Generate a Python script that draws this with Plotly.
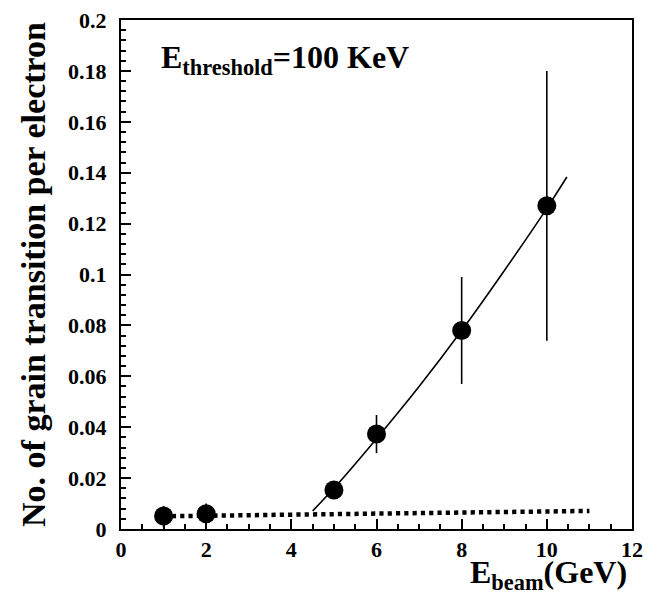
import plotly.graph_objects as go

# Data points
e_beam = [1, 2, 5, 6, 8, 10]
grains = [0.0051, 0.006, 0.0153, 0.0373, 0.078, 0.127]
err_up = [0.004, 0.004, 0.003, 0.0075, 0.021, 0.053]
err_dn = [0.0045, 0.0045, 0.003, 0.0075, 0.021, 0.053]

# Fit curve (solid)
fit_x = [4.5, 5, 6, 7, 8, 9, 10, 10.47]
fit_y = [0.0071, 0.016, 0.0355, 0.056, 0.078, 0.1015, 0.126, 0.1383]

# Background level (dotted)
bg_x = [1, 11]
bg_y = [0.005, 0.0071]

# Tick labels
x_ticks = [0, 2, 4, 6, 8, 10, 12]
x_labels = ["0", "2", "4", "6", "8", "10", "12"]
y_ticks = [0, 0.02, 0.04, 0.06, 0.08, 0.1, 0.12, 0.14, 0.16, 0.18, 0.2]
y_labels = ["0", "0.02", "0.04", "0.06", "0.08", "0.1", "0.12", "0.14", "0.16", "0.18", "0.2"]

FONT = "Liberation Serif"

fig = go.Figure()
fig.add_trace(go.Scatter(x=bg_x, y=bg_y, mode="lines",
                         line=dict(color="black", width=4.5, dash="4.2px,4.1px"),
                         hoverinfo="skip", showlegend=False))
fig.add_trace(go.Scatter(x=fit_x, y=fit_y, mode="lines",
                         line=dict(color="black", width=1.6, shape="spline", smoothing=0.8),
                         showlegend=False))
fig.add_trace(go.Scatter(x=e_beam, y=grains, mode="markers",
                         marker=dict(color="black", size=19, symbol="circle"),
                         error_y=dict(type="data", symmetric=False, array=err_up,
                                      arrayminus=err_dn, color="black",
                                      thickness=1.6, width=0),
                         showlegend=False))

axis_common = dict(showline=True, linecolor="black", linewidth=2, mirror=True,
                   ticks="inside", tickcolor="black", tickwidth=1.5, ticklen=10,
                   showgrid=False, zeroline=False, automargin=False,
                   tickfont=dict(family=FONT, size=22, color="black", weight="bold"))

fig.update_xaxes(range=[0, 12], tickvals=x_ticks, ticktext=x_labels,
                 minor=dict(ticks="inside", dtick=0.5, ticklen=5, tickcolor="black", tickwidth=1.5),
                 **axis_common)
fig.update_yaxes(range=[0, 0.2], tickvals=y_ticks, ticktext=y_labels,
                 minor=dict(ticks="inside", dtick=0.004, ticklen=5, tickcolor="black", tickwidth=1.5),
                 ticklabelstandoff=8,
                 title=dict(text="No. of grain transition per electron",
                            font=dict(family=FONT, size=34, color="black", weight="bold"),
                            standoff=12),
                 **axis_common)

fig.add_annotation(text="E<sub>threshold</sub>=100 KeV", xref="paper", yref="paper",
                   x=0.074, y=0.967, xanchor="left", yanchor="top", showarrow=False,
                   font=dict(family=FONT, size=32, color="black", weight="bold"))
fig.add_annotation(text="E<sub>beam</sub>(GeV)", xref="paper", yref="paper",
                   x=0.995, y=-0.134, xanchor="right", yanchor="bottom", showarrow=False,
                   font=dict(family=FONT, size=32, color="black", weight="bold"))

fig.update_layout(width=654, height=592, plot_bgcolor="white", paper_bgcolor="white",
                  font=dict(family=FONT, color="black"),
                  margin=dict(l=121, r=22, t=20, b=63), showlegend=False)

fig.write_html("out.html", config={"displayModeBar": False},
               post_script="document.body.style.margin='0';document.body.style.overflow='hidden';")
